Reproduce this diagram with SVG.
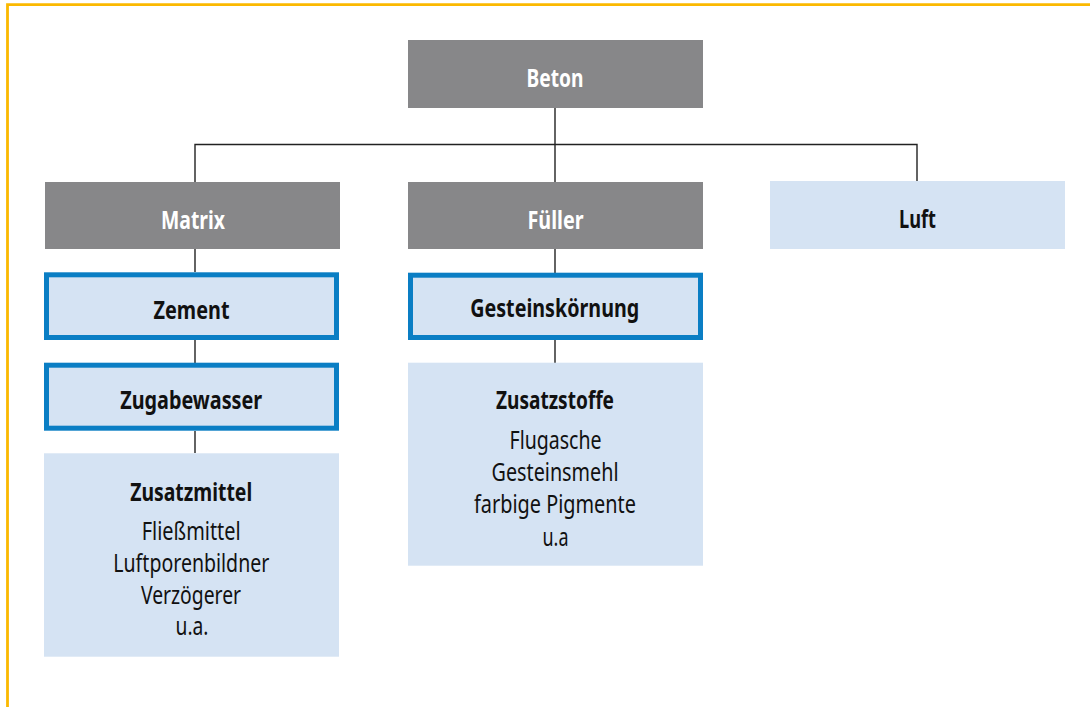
<svg xmlns="http://www.w3.org/2000/svg" width="1090" height="707" viewBox="0 0 1090 707">
<style>
.grey{fill:#878789}
.lb{fill:#d5e3f3}
.hl{fill:#d5e3f3;stroke:#0a7ec4;stroke-width:5}
text{font-family:"Noto Sans","Open Sans","Liberation Sans",sans-serif;font-stretch:condensed;font-size:25px;text-anchor:middle}
.w{fill:#ffffff;font-weight:bold}
.b{fill:#111111;font-weight:bold}
.n{fill:#111111;font-weight:normal}
.c{fill:none;stroke:#222222;stroke-width:1.4}
</style>
<rect width="1090" height="707" fill="#ffffff"/>
<path d="M7.5 707 V4.7 H1090" fill="none" stroke="#fbb900" stroke-width="2.8"/>
<g id="connectors">
<path class="c" d="M555 108 V182"/>
<path class="c" d="M195 182 V144.5 H917 V181"/>
<path class="c" d="M195 249 V272"/>
<path class="c" d="M195 340 V363"/>
<path class="c" d="M195 431 V453"/>
<path class="c" d="M555 249 V273"/>
<path class="c" d="M555 340 V363"/>
</g>
<g id="beton"><rect class="grey" x="408" y="40" width="295" height="68"/><text class="w" x="555" y="86.5" textLength="57" lengthAdjust="spacingAndGlyphs">Beton</text></g>
<g id="matrix"><rect class="grey" x="45" y="182" width="295" height="67"/><text class="w" x="193" y="229" textLength="64" lengthAdjust="spacingAndGlyphs">Matrix</text></g>
<g id="fueller"><rect class="grey" x="408" y="182" width="295" height="67"/><text class="w" x="555.5" y="229" textLength="56" lengthAdjust="spacingAndGlyphs">Füller</text></g>
<g id="luft"><rect class="lb" x="770" y="181" width="295" height="68"/><text class="b" x="917.5" y="228.3" textLength="37" lengthAdjust="spacingAndGlyphs">Luft</text></g>
<g id="zement"><rect class="hl" x="46.5" y="274.8" width="290" height="62.7"/><text class="b" x="191.5" y="319.3" textLength="76" lengthAdjust="spacingAndGlyphs">Zement</text></g>
<g id="zugabewasser"><rect class="hl" x="46.5" y="365.2" width="290" height="63"/><text class="b" x="191.2" y="409.3" textLength="142" lengthAdjust="spacingAndGlyphs">Zugabewasser</text></g>
<g id="zusatzmittel"><rect class="lb" x="44" y="453.3" width="295" height="203.4"/>
<text class="b" x="191.2" y="501" textLength="122" lengthAdjust="spacingAndGlyphs">Zusatzmittel</text>
<text class="n" x="191.2" y="540" textLength="99" lengthAdjust="spacingAndGlyphs">Fließmittel</text>
<text class="n" x="191.3" y="572.3" textLength="156" lengthAdjust="spacingAndGlyphs">Luftporenbildner</text>
<text class="n" x="191" y="604" textLength="100" lengthAdjust="spacingAndGlyphs">Verzögerer</text>
<text class="n" x="192" y="635" textLength="33" lengthAdjust="spacingAndGlyphs">u.a.</text>
</g>
<g id="gesteinskoernung"><rect class="hl" x="410.5" y="275.2" width="290" height="62.3"/><text class="b" x="554.7" y="317.3" textLength="169" lengthAdjust="spacingAndGlyphs">Gesteinskörnung</text></g>
<g id="zusatzstoffe"><rect class="lb" x="408" y="362.7" width="295" height="203"/>
<text class="b" x="555" y="409" textLength="118" lengthAdjust="spacingAndGlyphs">Zusatzstoffe</text>
<text class="n" x="555.5" y="449" textLength="92" lengthAdjust="spacingAndGlyphs">Flugasche</text>
<text class="n" x="555" y="480.7" textLength="127" lengthAdjust="spacingAndGlyphs">Gesteinsmehl</text>
<text class="n" x="555" y="512.7" textLength="162" lengthAdjust="spacingAndGlyphs">farbige Pigmente</text>
<text class="n" x="555.5" y="545.7" textLength="26" lengthAdjust="spacingAndGlyphs">u.a</text>
</g>
</svg>
